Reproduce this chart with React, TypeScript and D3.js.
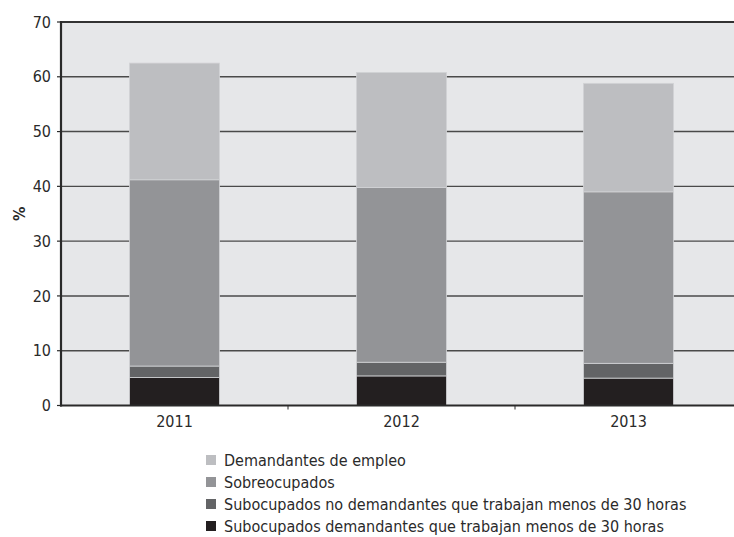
import React from "react";
import * as d3 from "d3";

const years = ["2011", "2012", "2013"];
const subDemandantes = [5.1, 5.4, 5.0];
const subNoDemandantes = [2.1, 2.5, 2.7];
const sobreocupados = [34.0, 31.9, 31.3];
const demandantesEmpleo = [21.3, 21.0, 19.8];
const yTicks = [0, 10, 20, 30, 40, 50, 60, 70];

const seriesNames = [
  "Subocupados demandantes que trabajan menos de 30 horas",
  "Subocupados no demandantes que trabajan menos de 30 horas",
  "Sobreocupados",
  "Demandantes de empleo",
];
const seriesColors = ["#231f20", "#636466", "#939497", "#bdbec1"];

const W = 734;
const H = 537;
const FONT = "'Liberation Sans Narrow', 'DejaVu Sans Condensed', 'Liberation Sans', sans-serif";

export default function App() {
  const left = 61;
  const right = 742;
  const top = 22;
  const bottom = 405.5;

  const x = d3.scaleBand<string>().domain(years).range([left, right]).paddingInner(0).paddingOuter(0);
  const y = d3.scaleLinear().domain([0, 70]).range([bottom, top]);

  const rows = years.map((yr, i) => ({
    year: yr,
    s0: subDemandantes[i],
    s1: subNoDemandantes[i],
    s2: sobreocupados[i],
    s3: demandantesEmpleo[i],
  }));
  const stack = d3.stack<any>().keys(["s0", "s1", "s2", "s3"]);
  const layers = stack(rows);

  const barW = 90;
  const legendOrder = [3, 2, 1, 0];

  return (
    <svg
      width={W}
      height={H}
      style={{ position: "fixed", left: 0, top: 0, background: "#fff" }}
      fontFamily={FONT}
    >
      <rect x={left} y={top} width={right - left} height={bottom - top} fill="#e6e7e9" />
      {yTicks.filter((t) => t > 0).map((t) => (
        <line
          key={t}
          x1={left}
          x2={right}
          y1={y(t)}
          y2={y(t)}
          stroke={t === 70 ? "#333" : "#4a4a4a"}
          strokeWidth={t === 70 ? 2.2 : 1.4}
        />
      ))}
      {layers.map((layer, li) =>
        layer.map((d, i) => {
          const cx = (x(years[i]) as number) + x.bandwidth() / 2;
          return (
            <rect
              key={li + "-" + i}
              x={cx - barW / 2}
              y={y(d[1])}
              width={barW}
              height={y(d[0]) - y(d[1])}
              fill={seriesColors[li]}
              stroke="#d2d3d5"
              strokeWidth={0.8}
            />
          );
        })
      )}
      <line x1={left} x2={left} y1={top - 1} y2={bottom + 1} stroke="#2a2a2a" strokeWidth={2.2} />
      <line x1={left - 1} x2={right} y1={bottom} y2={bottom} stroke="#2a2a2a" strokeWidth={2} />
      {yTicks.map((t) => (
        <g key={"yt" + t}>
          <line x1={left - 4} x2={left} y1={y(t)} y2={y(t)} stroke="#2a2a2a" strokeWidth={1.2} />
          <text
            x={left - 10}
            y={y(t)}
            dy="0.35em"
            textAnchor="end"
            fontSize={16}
            fill="#2a2a2a"
          >
            {t}
          </text>
        </g>
      ))}
      {years.slice(1).map((yr) => (
        <line
          key={"xt" + yr}
          x1={x(yr) as number}
          x2={x(yr) as number}
          y1={bottom}
          y2={bottom + 4}
          stroke="#2a2a2a"
          strokeWidth={1}
        />
      ))}
      {years.map((yr) => (
        <text
          key={"xl" + yr}
          x={(x(yr) as number) + x.bandwidth() / 2}
          y={bottom + 16}
          dy="0.35em"
          textAnchor="middle"
          fontSize={16}
          fill="#2a2a2a"
        >
          {yr}
        </text>
      ))}
      <text
        transform={`translate(19,${(y(30) + y(40)) / 2}) rotate(-90)`}
        dy="0.35em"
        textAnchor="middle"
        fontSize={16}
        fontWeight="bold"
        fill="#2a2a2a"
      >
        %
      </text>
      {legendOrder.map((si, k) => {
        const ly = 460 + k * 22;
        return (
          <g key={"lg" + si}>
            <rect x={206} y={ly - 5} width={10} height={10} fill={seriesColors[si]} />
            <text x={224} y={ly} dy="0.35em" fontSize={16} fill="#2a2a2a">
              {seriesNames[si]}
            </text>
          </g>
        );
      })}
    </svg>
  );
}
